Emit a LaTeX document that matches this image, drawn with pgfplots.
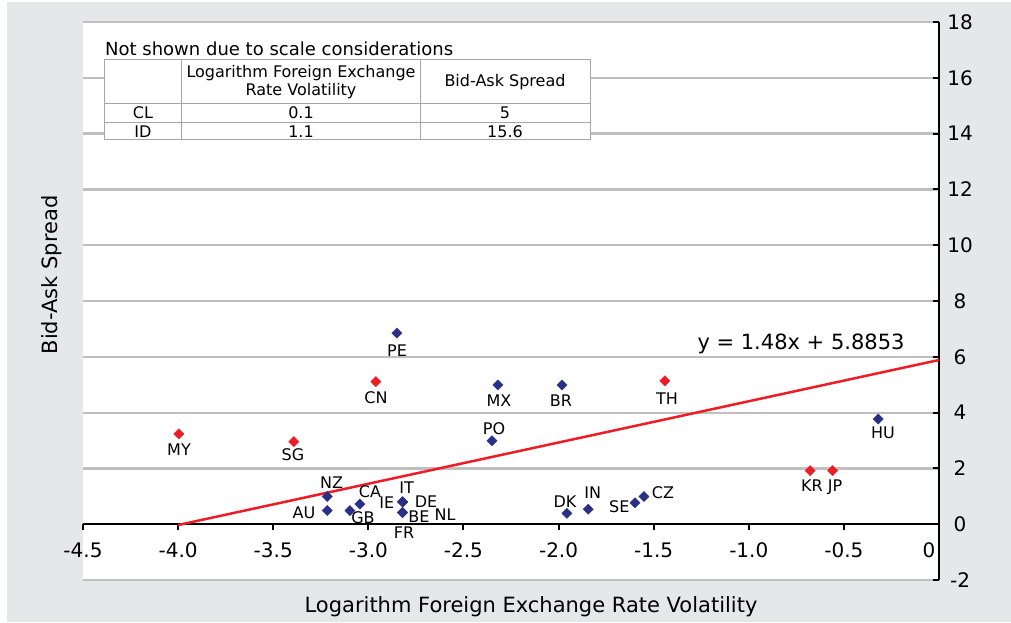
\documentclass[border=0pt]{standalone}
\usepackage{pgfplots}
\pgfplotsset{compat=1.18}
\usepackage{fontspec}
\setmainfont{DejaVu Sans}
\definecolor{bggray}{HTML}{E6E7E8}
\definecolor{gridgray}{HTML}{BFBFBF}
\definecolor{navy}{HTML}{2B3087}
\definecolor{ptred}{HTML}{EE1C25}
\definecolor{tblgray}{HTML}{A6A6A6}
\newcommand\fs[1]{\fontsize{#1pt}{#1pt}\selectfont}
\begin{document}
\begin{tikzpicture}
\fill[white] (0pt,0pt) rectangle (1011pt,622pt);
\fill[bggray] (7pt,0pt) rectangle (1011pt,620pt);
\begin{axis}[
  at={(83pt,42pt)}, anchor=south west,
  scale only axis, width=856pt, height=558pt,
  xmin=-4.5, xmax=0, ymin=-2, ymax=18,
  axis background/.style={fill=white},
  axis x line=middle, axis y line=right,
  axis line style={black, line width=2pt, -},
  xtick={-4.5,-4,-3.5,-3,-2.5,-2,-1.5,-1,-0.5},
  xticklabels={-4.5,-4.0,-3.5,-3.0,-2.5,-2.0,-1.5,-1.0,-0.5},
  extra x ticks={0}, extra x tick labels={0},
  extra x tick style={xticklabel style={xshift=-10pt}},
  ytick={-2,0,2,4,6,8,10,12,14,16,18},
  yticklabels={-2,0,2,4,6,8,10,12,14,16,18},
  ymajorgrids, grid style={gridgray, line width=2.2pt},
  xtick align=outside, ytick align=inside,
  major tick length=6pt,
  tick style={black, line width=2pt},
  tick label style={font=\fs{20}},
  xticklabel style={anchor=base, yshift=-27pt},
  yticklabel style={anchor=center, xshift=21pt},
  clip=false,
]
\addplot[ptred, line width=2.5pt] coordinates {(-4.0,-0.03) (0,5.8853)};
\addplot[only marks, mark=square*, mark size=3.6pt, mark options={rotate=45, fill=navy, draw=navy}] coordinates {
(-2.850,6.85) (-2.319,4.99) (-1.982,4.99) (-2.350,2.99) (-0.319,3.77)
(-3.216,0.99) (-3.216,0.49) (-3.097,0.49) (-3.044,0.72)
(-2.820,0.80) (-2.820,0.80) (-2.820,0.80) (-2.820,0.42) (-2.820,0.42) (-2.820,0.42)
(-1.956,0.39) (-1.844,0.54) (-1.598,0.77) (-1.551,0.99)
};
\addplot[only marks, mark=square*, mark size=3.6pt, mark options={rotate=45, fill=ptred, draw=ptred}] coordinates {
(-2.960,5.11) (-1.441,5.14) (-3.996,3.24) (-3.391,2.96) (-0.677,1.92) (-0.559,1.92)
};
\end{axis}
\begin{scope}[shift={(0pt,622pt)}, x=1pt, y=-1pt, lab/.style={anchor=base, yshift=-5.8pt, font=\fs{16}, inner sep=0pt}]
% data labels
\node[lab] at (397,350.7) {PE};
\node[lab] at (376,397.3) {CN};
\node[lab] at (499,401) {MX};
\node[lab] at (561,401) {BR};
\node[lab] at (667,398.3) {TH};
\node[lab] at (179,449.3) {MY};
\node[lab] at (293,455) {SG};
\node[lab] at (494,428.3) {PO};
\node[lab] at (883,432.3) {HU};
\node[lab] at (812,485.7) {KR};
\node[lab] at (835,485.7) {JP};
\node[lab] at (331.7,482.7) {NZ};
\node[lab] at (304,513) {AU};
\node[lab] at (363,518) {GB};
\node[lab] at (370,492) {CA};
\node[lab] at (406.7,488) {IT};
\node[lab] at (386.7,503) {IE};
\node[lab] at (426,501.7) {DE};
\node[lab] at (419,517) {BE};
\node[lab] at (445,515) {NL};
\node[lab] at (404,533) {FR};
\node[lab] at (565,501.7) {DK};
\node[lab] at (592.7,492.7) {IN};
\node[lab] at (619.3,506.7) {SE};
\node[lab] at (663,492.7) {CZ};
% equation
\node[anchor=base, font=\fs{21}, inner sep=0pt] at (801,349.5) {y = 1.48x + 5.8853};
% axis titles
\node[anchor=base, font=\fs{21}, inner sep=0pt] at (531,612.5) {Logarithm Foreign Exchange Rate Volatility};
\node[rotate=90, font=\fs{21}, inner sep=0pt] at (52,275) {Bid-Ask Spread};
% table
\node[anchor=base west, font=\fs{18}, inner sep=0pt] at (105,56) {Not shown due to scale considerations};
\fill[white] (104,59.3) rectangle (590,140);
\draw[tblgray, line width=1pt] (104,59.3) rectangle (590,140);
\draw[tblgray, line width=1pt] (104,104) -- (590,104) (104,122.5) -- (590,122.5)
  (181.7,59.3) -- (181.7,140) (420,59.3) -- (420,140);
\node[lab] at (301,71.7) {Logarithm Foreign Exchange};
\node[lab] at (301,90) {Rate Volatility};
\node[lab] at (505,81) {Bid-Ask Spread};
\node[lab] at (143,113) {CL};
\node[lab] at (301,113) {0.1};
\node[lab] at (505,113) {5};
\node[lab] at (143,131.5) {ID};
\node[lab] at (301,131.5) {1.1};
\node[lab] at (505,131.5) {15.6};
\end{scope}
\end{tikzpicture}
\end{document}
